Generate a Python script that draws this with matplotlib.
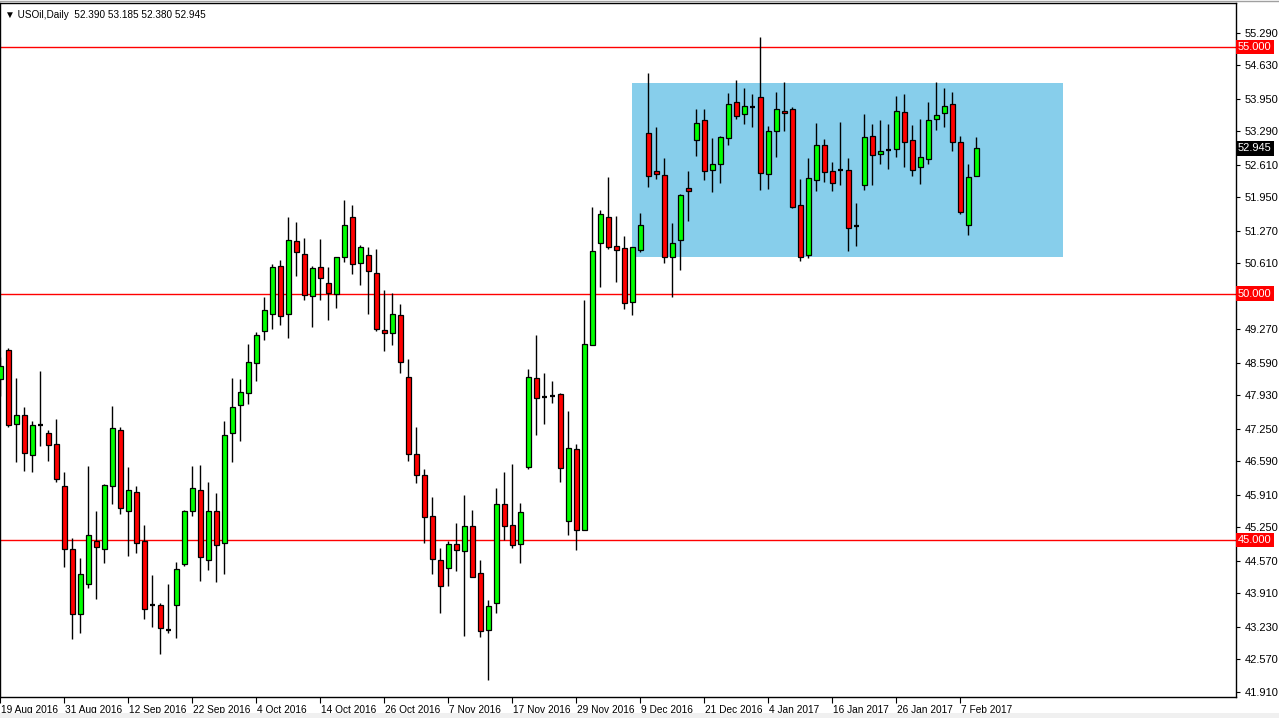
import matplotlib
matplotlib.use("Agg")
import matplotlib.pyplot as plt
import matplotlib.transforms as mtransforms
from matplotlib.patches import Rectangle
import numpy as np
import pandas as pd

# ---------------- data ----------------
symbol = "USOil,Daily"
holidays = ["2016-12-26", "2017-01-02"]
dates = pd.bdate_range("2016-08-19", "2017-02-09")
dates = dates[~dates.isin(pd.to_datetime(holidays))]

opens = [48.26, 48.85, 47.36, 47.53, 46.72, 47.34, 47.16, 46.94, 46.09, 44.81,
         43.50, 44.10, 44.98, 44.81, 46.09, 47.22, 45.58, 45.98, 44.97, 43.67,
         43.67, 43.16, 43.67, 44.50, 45.58, 46.02, 44.58, 45.58, 44.94, 47.16,
         47.73, 47.99, 48.58, 49.23, 49.58, 50.55, 49.58, 51.06, 50.80, 49.94,
         50.53, 50.21, 50.00, 50.74, 51.55, 50.61, 50.78, 50.41, 49.25, 49.19,
         49.56, 48.30, 46.74, 46.31, 45.48, 44.58, 44.42, 44.91, 44.77, 45.29,
         44.32, 43.16, 43.71, 45.72, 45.31, 44.91, 46.47, 48.28, 47.89, 47.92,
         47.95, 45.38, 46.84, 45.19, 48.95, 51.02, 51.55, 50.96, 50.92, 49.82,
         50.88, 53.25, 52.48, 52.40, 50.74, 51.08, 52.14, 53.11, 53.52, 52.50,
         52.64, 53.15, 53.88, 53.64, 53.79, 54.00, 52.42, 53.29, 53.70, 53.74,
         51.79, 50.78, 52.30, 53.01, 52.48, 52.50, 52.50, 51.38, 52.20, 53.19,
         52.83, 52.91, 52.93, 53.68, 53.11, 52.56, 52.73, 53.54, 53.66, 53.84,
         53.07, 51.39, 52.39]
highs = [48.72, 48.89, 48.28, 47.69, 47.41, 48.43, 47.23, 47.45, 46.37, 45.03,
         44.63, 46.50, 45.58, 46.13, 47.71, 47.30, 46.48, 46.09, 45.30, 44.29,
         43.72, 44.10, 44.55, 45.60, 46.50, 46.52, 46.17, 45.94, 47.41, 48.28,
         48.26, 48.98, 49.21, 49.93, 50.59, 50.69, 51.55, 51.45, 51.12, 50.55,
         51.10, 50.53, 50.74, 51.89, 51.79, 50.98, 50.94, 50.90, 50.07, 50.02,
         49.78, 48.68, 47.30, 46.44, 45.87, 44.83, 44.97, 45.34, 45.91, 45.61,
         44.59, 43.78, 46.05, 46.38, 46.54, 45.75, 48.46, 49.16, 48.38, 48.22,
         47.99, 47.61, 46.94, 49.87, 51.75, 51.69, 52.37, 51.57, 51.16, 50.94,
         51.64, 54.47, 53.38, 52.75, 51.43, 52.03, 52.48, 53.74, 53.74, 53.15,
         53.19, 54.07, 54.33, 54.17, 54.05, 55.20, 53.40, 54.09, 54.29, 53.78,
         52.32, 52.75, 53.46, 53.13, 52.68, 53.48, 52.75, 51.83, 53.64, 53.44,
         53.52, 53.44, 54.02, 54.05, 53.42, 53.54, 53.88, 54.29, 54.17, 54.09,
         53.19, 52.62, 53.185]
lows = [47.91, 47.30, 46.57, 46.40, 46.38, 46.91, 46.59, 46.18, 44.45, 42.99,
        43.11, 44.03, 43.80, 44.52, 45.73, 45.53, 44.68, 44.74, 43.40, 43.22,
        42.69, 43.11, 43.01, 44.47, 45.49, 44.17, 44.39, 44.15, 44.30, 46.57,
        47.01, 47.75, 48.23, 49.06, 49.29, 49.37, 49.10, 50.36, 49.86, 49.33,
        49.86, 49.47, 49.71, 50.65, 50.40, 50.18, 49.59, 49.23, 48.84, 48.96,
        48.38, 46.59, 46.16, 44.93, 44.31, 43.52, 44.07, 44.37, 43.05, 44.24,
        43.02, 42.16, 43.51, 44.99, 44.84, 44.52, 46.43, 47.13, 47.36, 47.77,
        46.18, 45.10, 44.79, 45.19, 48.95, 50.14, 50.90, 50.24, 49.69, 49.57,
        50.84, 52.16, 52.32, 50.63, 49.92, 50.47, 51.48, 52.80, 52.30, 52.06,
        52.24, 53.01, 53.54, 53.44, 53.38, 52.10, 52.12, 52.77, 53.29, 51.73,
        50.67, 50.72, 52.08, 52.26, 52.08, 52.20, 50.87, 50.97, 52.10, 52.20,
        52.64, 52.52, 52.77, 52.56, 52.38, 52.22, 52.62, 53.33, 53.38, 52.89,
        51.61, 51.18, 52.38]
closes = [48.53, 47.34, 47.53, 46.76, 47.34, 47.34, 46.92, 46.23, 44.81, 43.49,
          44.30, 45.09, 44.85, 46.11, 47.26, 45.64, 46.02, 44.93, 43.59, 43.67,
          43.20, 43.16, 44.40, 45.58, 46.05, 44.66, 45.58, 44.89, 47.12, 47.69,
          48.01, 48.62, 49.15, 49.66, 50.53, 49.54, 51.08, 50.84, 49.98, 50.51,
          50.31, 50.02, 50.74, 51.39, 50.59, 50.94, 50.45, 49.27, 49.19, 49.58,
          48.60, 46.74, 46.31, 45.46, 44.62, 44.06, 44.91, 44.79, 45.29, 44.24,
          43.14, 43.65, 45.72, 45.29, 44.89, 45.56, 48.30, 47.87, 47.89, 47.92,
          46.45, 46.86, 45.19, 48.97, 50.86, 51.61, 50.94, 50.88, 49.80, 50.94,
          51.39, 52.38, 52.42, 50.74, 51.02, 52.01, 52.08, 53.46, 52.48, 52.62,
          53.17, 53.84, 53.60, 53.80, 53.79, 52.44, 53.31, 53.74, 53.66, 51.75,
          50.74, 52.34, 53.01, 52.46, 52.24, 52.50, 51.34, 51.38, 53.17, 52.81,
          52.89, 52.91, 53.70, 53.07, 52.50, 52.77, 53.52, 53.62, 53.80, 53.07,
          51.65, 52.36, 52.945]

levels = [55.0, 50.0, 45.0]
last_price = 52.945
header_ohlc = "52.390 53.185 52.380 52.945"
zone_low, zone_high = 50.742, 54.275
zone_start, zone_end = 78.96, 132.8
price_ticks = [55.29, 54.63, 53.95, 53.29, 52.61, 51.95, 51.27, 50.61, 49.93,
               49.27, 48.59, 47.93, 47.25, 46.59, 45.91, 45.25, 44.57, 43.91,
               43.23, 42.57, 41.91]

FONT = ["Liberation Sans", "DejaVu Sans"]
plt.rcParams["font.family"] = FONT

# ---------------- figure ----------------
W, H = 1279, 718
fig = plt.figure(figsize=(W / 100, H / 100), dpi=100, facecolor="white")
ax = fig.add_axes([0 / W, (H - 697) / H, 1236 / W, (697 - 3) / H])
ax.set_facecolor("white")

fig.patches.append(Rectangle((0, 0), 1, 5 / H, transform=fig.transFigure,
                             facecolor="#F0F0F0", edgecolor="none", zorder=0))

x = np.arange(len(opens))
o = np.array(opens); h = np.array(highs); l = np.array(lows); c = np.array(closes)

ax.add_patch(Rectangle((zone_start, zone_low), zone_end - zone_start,
                       zone_high - zone_low, facecolor="#87CEEB",
                       edgecolor="none", zorder=1))

for lv in levels:
    ax.axhline(lv, color="#FF0000", lw=1.0, zorder=2)

ax.vlines(x, l, h, color="black", lw=1.0, zorder=3)

diff = c - o
doji = np.abs(diff) < 0.015
up = (diff > 0) & ~doji
dn = (diff < 0) & ~doji
bw = 0.6
ax.bar(x[up], diff[up], bottom=o[up], width=bw, color="#00FF00",
       edgecolor="black", linewidth=0.9, zorder=4)
ax.bar(x[dn], -diff[dn], bottom=c[dn], width=bw, color="#FF0000",
       edgecolor="black", linewidth=0.9, zorder=4)
ax.hlines(o[doji], x[doji] - bw / 2, x[doji] + bw / 2, color="black",
          lw=1.6, zorder=4)

ax.set_xlim(-0.04, 154.46)
ax.set_ylim(41.808, 55.899)

# y axis on right (49.930 label is hidden under the 50.000 marker)
ax.yaxis.tick_right()
ax.set_yticks(price_ticks)
ax.set_yticklabels(["" if abs(t - 49.93) < 1e-6 else f"{t:.3f}" for t in price_ticks])
ax.tick_params(axis="y", direction="out", length=3, width=0.8, pad=3,
               labelsize=8, colors="black")

# x axis dates
tick_idx = list(range(0, len(dates), 8))
ax.set_xticks(tick_idx)
ax.set_xticklabels([f"{dates[i].day} {dates[i].strftime('%b %Y')}" for i in tick_idx])
ax.tick_params(axis="x", direction="out", length=4, width=0.8, pad=2,
               labelsize=7.3, colors="black")
offset = mtransforms.ScaledTranslation(1 / 100, 0, fig.dpi_scale_trans)
for lbl in ax.get_xticklabels():
    lbl.set_horizontalalignment("left")
    lbl.set_transform(lbl.get_transform() + offset)

for sp in ax.spines.values():
    sp.set_color("black")
    sp.set_linewidth(1.0)

trans = mtransforms.blended_transform_factory(ax.transAxes, ax.transData)
for lv in levels:
    ax.text(1.0015, lv, f"{lv:.3f}", transform=trans, va="center", ha="left",
            fontsize=8, color="white", zorder=10, clip_on=False,
            bbox=dict(boxstyle="square,pad=0.2", facecolor="#FF0000", edgecolor="none"))
ax.text(1.0015, last_price, f"{last_price:.3f}", transform=trans, va="center",
        ha="left", fontsize=8, color="white", zorder=10, clip_on=False,
        bbox=dict(boxstyle="square,pad=0.2", facecolor="black", edgecolor="none"))

ax.text(0.004, 0.99, "\u25BC " + symbol + "  " + header_ohlc, transform=ax.transAxes,
        va="top", ha="left", fontsize=7.2, color="black", zorder=10,
        family=FONT)

fig.add_artist(plt.Line2D([0, 1], [1 - 0.5 / H, 1 - 0.5 / H], transform=fig.transFigure,
                          color="#A0A0A0", lw=1))

fig.savefig("out.png", dpi=100, facecolor=fig.get_facecolor())
